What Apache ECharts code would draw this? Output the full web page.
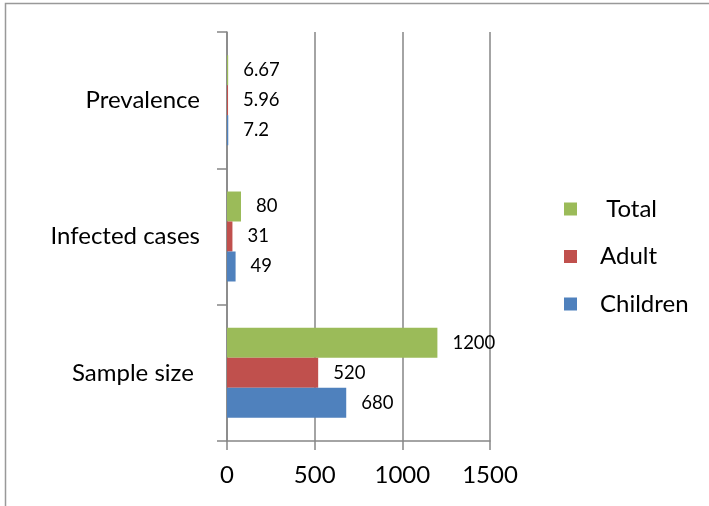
<!DOCTYPE html>
<html>
<head>
<meta charset="utf-8">
<script src="https://cdn.jsdelivr.net/npm/echarts@6/dist/echarts.min.js"></script>
<style>
  html, body { margin: 0; padding: 0; background: #fff; }
  #chart { width: 709px; height: 506px; }
</style>
</head>
<body>
<div id="chart"></div>
<script>
const categories = ['Sample size', 'Infected cases', 'Prevalence']
const children = [680, 49, 7.2]
const adult = [520, 31, 5.96]
const total = [1200, 80, 6.67]
const xTicks = [0, 500, 1000, 1500]

const font = 'Lato, "Open Sans", sans-serif'
const axisGray = '#868686'

const makeSeries = (name, data, color) => ({
  name,
  type: 'bar',
  data,
  barGap: '0%',
  barCategoryGap: '34%',
  itemStyle: { color },
  label: {
    show: true,
    position: 'right',
    distance: 15,
    color: '#000',
    fontSize: 18.5,
    fontFamily: font,
  },
})

const chart = echarts.init(document.getElementById('chart'))
chart.setOption({
  animation: false,
  textStyle: { fontFamily: font },
  graphic: [{
    type: 'rect',
    shape: { x: 5.5, y: 3.5, width: 800, height: 600 },
    style: { fill: 'none', stroke: '#999', lineWidth: 1.5 },
    silent: true,
  }],
  grid: { left: 227, right: 219, top: 32, bottom: 65, containLabel: false },
  legend: {
    data: ['Total', 'Adult', 'Children'],
    orient: 'vertical',
    left: 559,
    top: 192,
    itemWidth: 13,
    itemHeight: 13,
    itemGap: 23.5,
    icon: 'rect',
    formatter: name => (name === 'Total' ? ' ' + name : name),
    textStyle: { fontSize: 24, color: '#000', fontFamily: font, padding: [0, 0, 0, 18] },
  },
  xAxis: {
    type: 'value',
    min: xTicks[0],
    max: xTicks[xTicks.length - 1],
    interval: 500,
    axisLine: { show: true, lineStyle: { color: axisGray, width: 1.5 } },
    axisTick: { show: true, length: 9, lineStyle: { color: axisGray, width: 1.5 } },
    axisLabel: { fontSize: 24, color: '#000', margin: 22, fontFamily: font, formatter: v => String(v) },
    splitLine: { show: true, lineStyle: { color: axisGray, width: 1.5 } },
  },
  yAxis: {
    type: 'category',
    data: categories,
    axisLine: { show: true, lineStyle: { color: axisGray, width: 1.5 } },
    axisTick: { show: true, length: 10, alignWithLabel: false, lineStyle: { color: axisGray, width: 1.5 } },
    axisLabel: {
      fontSize: 24, color: '#000', margin: 27, fontFamily: font,
      formatter: v => (v === 'Sample size' ? v + ' ' : v),
    },
  },
  series: [
    makeSeries('Total', total, '#9BBB59'),
    makeSeries('Adult', adult, '#C0504D'),
    makeSeries('Children', children, '#4F81BD'),
  ],
})
</script>
</body>
</html>
